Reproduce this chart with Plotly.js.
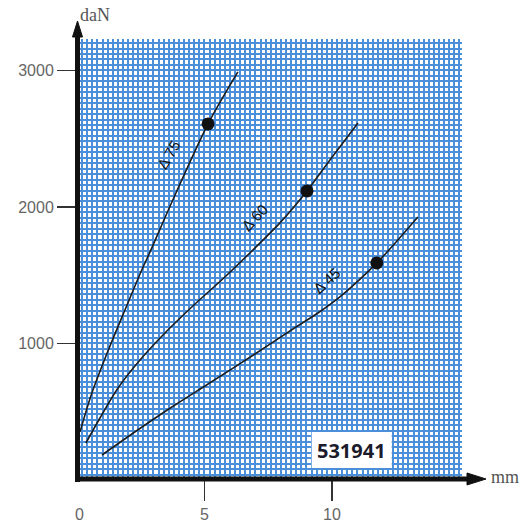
<!DOCTYPE html>
<html>
<head>
<meta charset="utf-8">
<script src="https://cdn.plot.ly/plotly-3.0.1.min.js"></script>
<style>html,body{margin:0;padding:0;background:#fff;}#chart{width:526px;height:524px;}</style>
</head>
<body>
<div id="chart"></div>
<script>
// Curve Δ75
const d75x = [0.12, 0.58, 1.23, 1.88, 2.54, 2.90, 3.60, 5.14, 6.31];
const d75y = [354, 635, 952, 1245, 1538, 1685, 1985, 2608, 2989];
// Curve Δ60
const d60x = [0.35, 0.90, 1.61, 2.47, 3.45, 4.63, 5.80, 6.78, 7.96, 9.02, 9.92, 11.02];
const d60y = [271, 454, 674, 879, 1077, 1289, 1487, 1663, 1883, 2117, 2344, 2615];
// Curve Δ45
const d45x = [0.98, 2.55, 3.84, 5.14, 6.98, 8.47, 9.45, 10.31, 11.76, 13.37];
const d45y = [183, 388, 549, 703, 923, 1106, 1223, 1341, 1590, 1927];
// Marked points
const dotX = [5.14, 9.02, 11.76];
const dotY = [2608, 2117, 1590];
// Curve labels
const curveLabels = ["Δ 75", "Δ 60", "Δ 45"];
const labelX = [3.61, 6.98, 9.80];
const labelY = [2381, 1919, 1458];
// Ticks
const xTickVals = [5, 10];
const xTickText = ["5", "10"];
const yTickVals = [1000, 2000, 3000];
const yTickText = ["1000", "2000", "3000"];
const xUnit = "mm";
const yUnit = "daN";
const refCode = "531941";

const lineStyle = {color: '#1e1e1e', width: 1.6, shape: 'spline', smoothing: 0.8};
const traces = [
  {x: d75x, y: d75y, mode: 'lines', line: lineStyle, hoverinfo: 'skip'},
  {x: d60x, y: d60y, mode: 'lines', line: lineStyle, hoverinfo: 'skip'},
  {x: d45x, y: d45y, mode: 'lines', line: lineStyle, hoverinfo: 'skip'},
  {x: dotX, y: dotY, mode: 'markers', marker: {color: '#111', size: 13}, hoverinfo: 'skip'}
];

const gridCol = '#4b8fdb';
const tickFont = {family: 'Liberation Sans, Arial, sans-serif', size: 16, color: '#666'};

const angles = [-59, -47, -42];
const annotations = curveLabels.map((t, i) => ({
  x: labelX[i], y: labelY[i], xref: 'x', yref: 'y', text: t, showarrow: false,
  textangle: angles[i], xanchor: 'center', yanchor: 'middle',
  font: {family: 'Liberation Sans, Arial, sans-serif', size: 15, color: '#111'}
}));
annotations.push(
  {x: 0, y: -0.0, xref: 'x', yref: 'paper', text: '0', showarrow: false, xanchor: 'center', yanchor: 'top', yshift: -24, xshift: 2, font: tickFont},
  {x: 0.0026, y: 1.054, xref: 'paper', yref: 'paper', text: yUnit, showarrow: false, xanchor: 'left', yanchor: 'middle', font: {family: 'Liberation Serif, Times New Roman, serif', size: 18, color: '#555'}},
  {x: 1.070, y: 0.0068, xref: 'paper', yref: 'paper', text: xUnit, showarrow: false, xanchor: 'left', yanchor: 'middle', font: {family: 'Liberation Serif, Times New Roman, serif', size: 18, color: '#555'}},
  {x: 0.7135, y: 0.068, xref: 'paper', yref: 'paper', text: '<b>' + refCode + '</b>', showarrow: false, xanchor: 'center', yanchor: 'middle', font: {family: 'Open Sans, sans-serif', size: 20, color: '#1b1b2b'}}
);

const shapes = [
  // white label box
  {type: 'rect', xref: 'paper', yref: 'paper', x0: 0.6096, x1: 0.8174, y0: 0.0272, y1: 0.1088, fillcolor: '#fff', line: {width: 0}, layer: 'above'},
  // y axis line
  {type: 'line', xref: 'paper', yref: 'paper', x0: 0.0013, x1: 0.0013, y0: -0.0045, y1: 1.008, line: {color: '#111', width: 5}, layer: 'above'},
  // x axis line
  {type: 'line', xref: 'paper', yref: 'paper', x0: -0.0052, x1: 1.016, y0: 0.00227, y1: 0.00227, line: {color: '#111', width: 5}, layer: 'above'},
  // y arrowhead
  {type: 'path', xref: 'paper', yref: 'paper', path: 'M 0.0013 1.0408 L -0.0117 1.0045 L 0.0143 1.0045 Z', fillcolor: '#111', line: {color: '#111', width: 1}, layer: 'above'},
  // x arrowhead
  {type: 'path', xref: 'paper', yref: 'paper', path: 'M 1.0623 0.00227 L 1.013 0.0159 L 1.013 -0.0113 Z', fillcolor: '#111', line: {color: '#111', width: 1}, layer: 'above'}
];

const layout = {
  width: 526, height: 524,
  margin: {l: 77, r: 64, t: 39, b: 44, pad: 0},
  paper_bgcolor: '#fff', plot_bgcolor: '#fff',
  showlegend: false,
  xaxis: {
    range: [0, 15.1], tickvals: xTickVals, ticktext: xTickText,
    ticks: 'outside', ticklen: 20, tickwidth: 1.5, tickcolor: '#333',
    showgrid: true, gridcolor: gridCol, gridwidth: 2, zeroline: false, showline: false,
    tickfont: tickFont, fixedrange: true,
    minor: {dtick: 0.2, tick0: 0, showgrid: true, gridcolor: gridCol, gridwidth: 2, ticks: ''}
  },
  yaxis: {
    range: [0, 3230], tickvals: yTickVals, ticktext: yTickText,
    ticks: 'outside', ticklen: 19, tickwidth: 1.5, tickcolor: '#333',
    showgrid: true, gridcolor: gridCol, gridwidth: 2, zeroline: false, showline: false,
    tickfont: tickFont, fixedrange: true,
    minor: {dtick: 40, tick0: 0, showgrid: true, gridcolor: gridCol, gridwidth: 2, ticks: ''}
  },
  annotations: annotations,
  shapes: shapes
};

Plotly.newPlot('chart', traces, layout, {displayModeBar: false, staticPlot: true});
</script>
</body>
</html>
